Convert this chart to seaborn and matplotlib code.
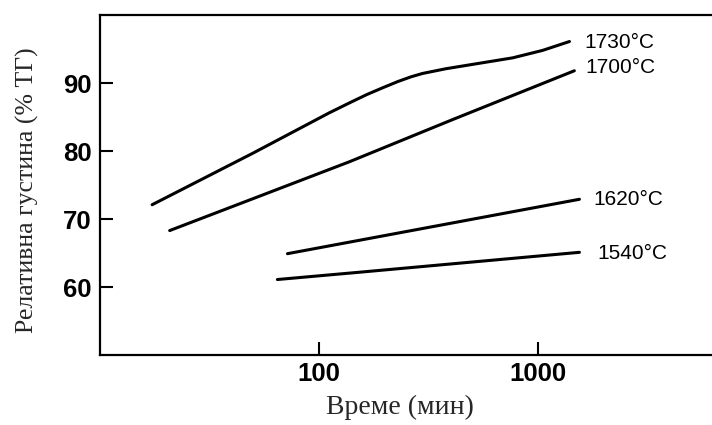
import numpy as np
import pandas as pd
import matplotlib
matplotlib.use("Agg")
import matplotlib.pyplot as plt
import seaborn as sns

# ── Data ──────────────────────────────────────────────────────────────────────
temps = ["1730°C", "1700°C", "1620°C", "1540°C"]

t_1730 = [17.3, 50, 111, 140, 165, 195, 228, 262, 296, 379, 538, 764, 1047, 1387]
d_1730 = [72.1, 79.7, 85.6, 87.2, 88.3, 89.3, 90.2, 90.9, 91.4, 92.1, 92.9, 93.7, 94.8, 96.1]

t_1700 = [20.8, 137, 405, 1460]
d_1700 = [68.3, 78.4, 84.6, 91.8]

t_1620 = [71.7, 1540]
d_1620 = [64.9, 72.9]

t_1540 = [64.5, 150, 1540]
d_1540 = [61.1, 62.15, 65.1]

x_ticks = [100, 1000]
y_ticks = [60, 70, 80, 90]

series = {
    "1730°C": (t_1730, d_1730),
    "1700°C": (t_1700, d_1700),
    "1620°C": (t_1620, d_1620),
    "1540°C": (t_1540, d_1540),
}

df = pd.concat(
    [pd.DataFrame({"t": t, "d": d, "temp": name}) for name, (t, d) in series.items()],
    ignore_index=True,
)

# ── Style ─────────────────────────────────────────────────────────────────────
sns.set_style("ticks")
plt.rcParams["font.family"] = ["Liberation Sans", "DejaVu Sans"]

fig = plt.figure(figsize=(7.12, 4.25), dpi=100)
ax = fig.add_axes([0.1404, 0.1647, 0.8596, 0.80])

sns.lineplot(data=df, x="t", y="d", hue="temp", units="temp", estimator=None,
             palette=["black"] * len(temps), hue_order=temps, sort=False,
             linewidth=2.2, legend=False, ax=ax)

ax.set_xscale("log")
ax.set_xlim(10, 6200)
ax.set_ylim(50, 100)
ax.set_xticks(x_ticks)
ax.set_xticklabels([str(v) for v in x_ticks])
ax.xaxis.set_minor_locator(matplotlib.ticker.NullLocator())
ax.set_yticks(y_ticks)

ax.tick_params(axis="both", direction="in", length=9.5, width=1.5, color="black",
               labelsize=18.5, labelcolor="black")
ax.tick_params(axis="x", pad=5)
ax.tick_params(axis="y", pad=6)
for lab in ax.get_xticklabels() + ax.get_yticklabels():
    lab.set_fontweight("bold")

for side in ["left", "bottom", "top"]:
    ax.spines[side].set_linewidth(1.6)
    ax.spines[side].set_color("black")
ax.spines["right"].set_visible(False)

# ── Curve labels ──────────────────────────────────────────────────────────────
offsets = {"1730°C": (11, -1), "1700°C": (8, 2), "1620°C": (10, -0.5), "1540°C": (13, -0.5)}
for name, (t, d) in series.items():
    ax.annotate(name, xy=(t[-1], d[-1]), xytext=offsets[name], textcoords="offset points",
                ha="left", va="center", fontsize=15, color="black")

# ── Axis labels ───────────────────────────────────────────────────────────────
serif = ["Liberation Serif", "DejaVu Serif"]
ax.set_xlabel("Време (мин)", family=serif, fontsize=20)
ax.set_ylabel("Релативна густина (% ТГ)", family=serif, fontsize=18.5)
ax.xaxis.set_label_coords(0.49, -0.118)
ax.yaxis.set_label_coords(-0.1, 0.485)

fig.savefig("out.png", dpi=100)
